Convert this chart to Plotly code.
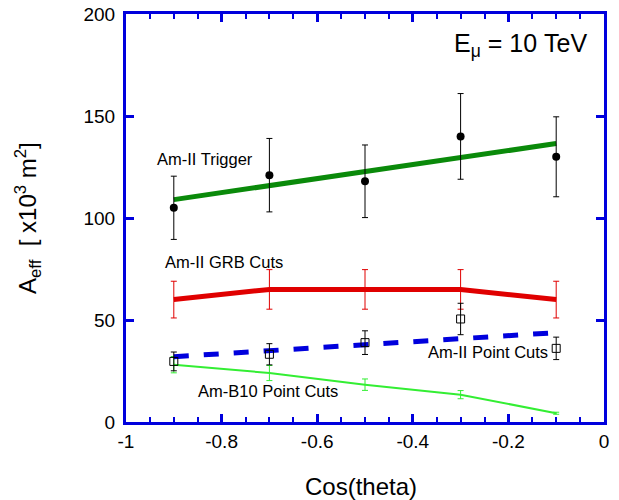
import plotly.graph_objects as go

cos_theta = [-0.9, -0.7, -0.5, -0.3, -0.1]

# Am-II Trigger (points + fit line)
trig_vals = [105, 121, 118, 140, 130]
trig_err = [15.5, 18, 17.8, 21, 19.6]
trig_fit_x = [-0.9, -0.1]
trig_fit = [109, 136.5]

# Am-II GRB cuts
grb_vals = [60, 65, 65, 65, 60]
grb_err = [9, 9.7, 9.7, 9.7, 9]

# Am-II point cuts (line + squares)
pt_line = [32, 34.8, 37.8, 40.8, 43.8]
pt_vals = [29.7, 33.2, 38.9, 50.5, 36.1]
pt_err = [4.6, 5.2, 5.8, 7.7, 5.5]

# Am-B10 point cuts
b10_vals = [28.1, 24.0, 18.3, 13.4, 4.3]
b10_err = [4.0, 3.7, 2.8, 2.0, 0.5]

x_ticks = [-1, -0.8, -0.6, -0.4, -0.2, 0]
x_ticklabels = ["-1", "-0.8", "-0.6", "-0.4", "-0.2", "0"]
y_ticks = [0, 50, 100, 150, 200]

FONT = "Liberation Sans, Arial, sans-serif"
BLUE = "#0000dd"
fig = go.Figure()

fig.add_trace(go.Scatter(x=trig_fit_x, y=trig_fit, mode="lines",
                         line=dict(color="#0a8a0a", width=5), showlegend=False))
fig.add_trace(go.Scatter(x=cos_theta, y=grb_vals, mode="lines",
                         line=dict(color="#e00000", width=5),
                         error_y=dict(type="data", array=grb_err, color="#e00000", thickness=1, width=3),
                         showlegend=False))
fig.add_trace(go.Scatter(x=cos_theta, y=b10_vals, mode="lines",
                         line=dict(color="#33ee33", width=2),
                         error_y=dict(type="data", array=b10_err, color="#33ee33", thickness=1, width=3),
                         showlegend=False))
fig.add_trace(go.Scatter(x=cos_theta, y=pt_line, mode="lines",
                         line=dict(color=BLUE, width=5, dash="dash"), showlegend=False))
fig.add_trace(go.Scatter(x=cos_theta, y=pt_vals, mode="markers",
                         marker=dict(symbol="square-open", size=8, color="black", line=dict(width=1)),
                         error_y=dict(type="data", array=pt_err, color="black", thickness=1, width=3),
                         showlegend=False))
fig.add_trace(go.Scatter(x=cos_theta, y=trig_vals, mode="markers",
                         marker=dict(symbol="circle", size=8, color="black"),
                         error_y=dict(type="data", array=trig_err, color="black", thickness=1, width=3),
                         showlegend=False))

ann_font = dict(family=FONT, size=16.5, color="black")
fig.add_annotation(x=-0.175, y=185, text="E<sub>μ</sub> = 10 TeV", showarrow=False,
                   font=dict(family=FONT, size=25, color="black"))
fig.add_annotation(x=-0.939, y=129, text="Am-II Trigger", showarrow=False, xanchor="left", font=ann_font)
fig.add_annotation(x=-0.923, y=78.4, text="Am-II GRB Cuts", showarrow=False, xanchor="left", font=ann_font)
fig.add_annotation(x=-0.372, y=34.3, text="Am-II Point Cuts", showarrow=False, xanchor="left", font=ann_font)
fig.add_annotation(x=-0.854, y=15.2, text="Am-B10 Point Cuts", showarrow=False, xanchor="left", font=ann_font)

# axis titles
fig.add_annotation(xref="paper", yref="paper", x=0.492, y=-0.157, yanchor="middle",
                   text="Cos(theta)", showarrow=False, font=dict(family=FONT, size=24, color="black"))
fig.add_annotation(xref="paper", yref="paper", x=-0.205, y=0.5, xanchor="center", yanchor="middle",
                   textangle=-90, text="A<sub>eff</sub>  [ x10<sup>3</sup> m<sup>2</sup>]",
                   showarrow=False, font=dict(family=FONT, size=24, color="black"))

fig.update_xaxes(range=[-1, 0], tickvals=x_ticks, ticktext=x_ticklabels,
                 showline=True, linecolor=BLUE, linewidth=3, mirror="allticks",
                 ticks="inside", ticklen=8, tickwidth=3, tickcolor=BLUE,
                 minor=dict(dtick=0.05, ticks="inside", ticklen=5, tickwidth=2, tickcolor=BLUE, showgrid=False),
                 showgrid=False, zeroline=False, automargin=False,
                 tickfont=dict(family=FONT, size=19, color="black"))
fig.update_yaxes(range=[0, 200], tickvals=y_ticks,
                 showline=True, linecolor=BLUE, linewidth=3, mirror="allticks",
                 ticks="inside", ticklen=8, tickwidth=3, tickcolor=BLUE,
                 showgrid=False, zeroline=False, automargin=False, ticklabelstandoff=4,
                 tickfont=dict(family=FONT, size=19, color="black"))

fig.update_layout(width=619, height=500, margin=dict(l=126, r=15, t=14, b=78),
                  plot_bgcolor="white", paper_bgcolor="white", font=dict(family=FONT))
fig.write_html("out.html")
